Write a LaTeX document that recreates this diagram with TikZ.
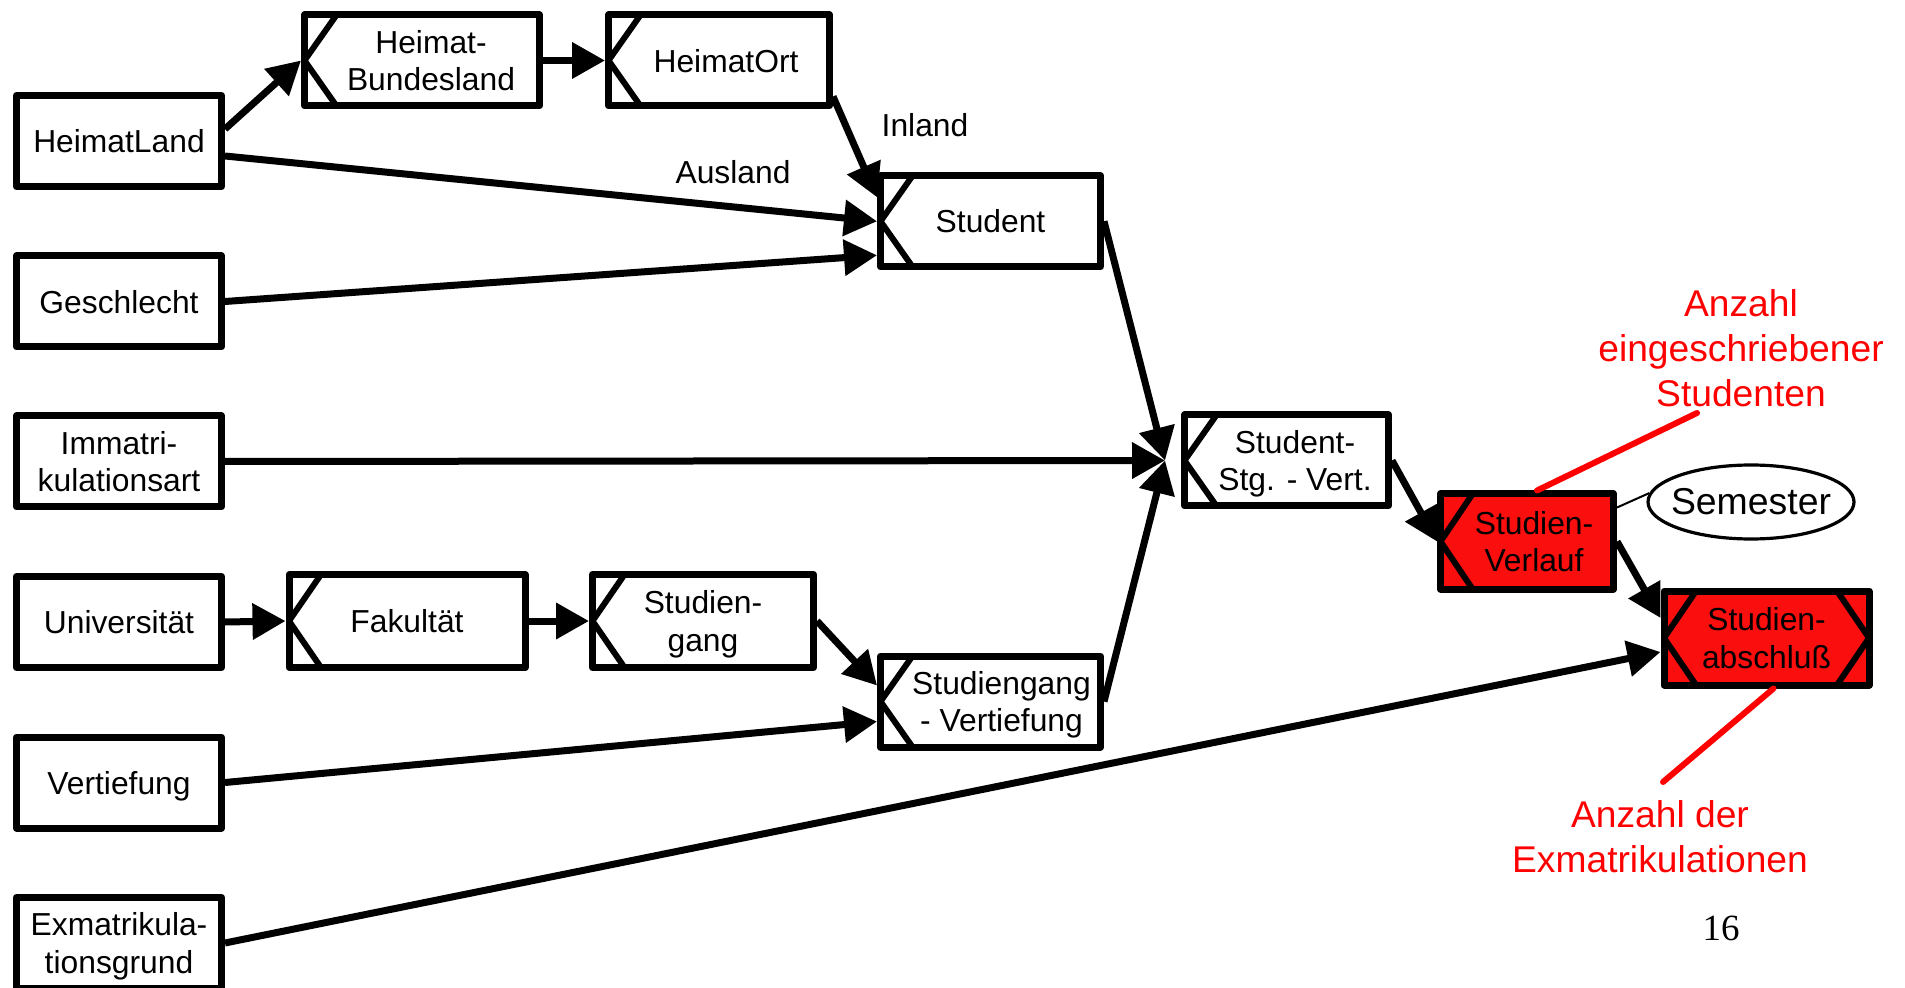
\documentclass[tikz,border=0pt]{standalone}
\usepackage{fontspec}
\setmainfont{Liberation Sans}
\newfontfamily\pagenumfont{Liberation Serif}
\usetikzlibrary{arrows.meta,calc,shapes.geometric}

\definecolor{boxred}{RGB}{250,14,14}
\definecolor{notered}{RGB}{255,0,0}

\tikzset{
  level/.style={draw, fill=white, line width=3.5pt, line join=round, inner sep=0pt,
    align=center, text depth=0pt, minimum height=45.5pt,
    font=\fontsize{15.9}{18.9}\selectfont},
  attr/.style={level, minimum width=102.5pt},
  chevL/.style={path picture={
    \draw[line width=3pt]
      ([xshift=16pt]path picture bounding box.north west)
      -- (path picture bounding box.west)
      -- ([xshift=16pt]path picture bounding box.south west);}},
  chevLR/.style={path picture={
    \draw[line width=3pt]
      ([xshift=16pt]path picture bounding box.north west)
      -- (path picture bounding box.west)
      -- ([xshift=16pt]path picture bounding box.south west);
    \draw[line width=3pt]
      ([xshift=-16pt]path picture bounding box.north east)
      -- (path picture bounding box.east)
      -- ([xshift=-16pt]path picture bounding box.south east);}},
  conn/.style={line width=3.5pt, -{Triangle[length=16.5pt,width=17.5pt]}},
  noteline/.style={draw=notered, line width=3pt, line cap=round},
  notetext/.style={text=notered, align=center, inner sep=0pt,
    font=\fontsize{18.6}{22.5}\selectfont},
  lbl/.style={inner sep=0pt, font=\fontsize{15.9}{18.9}\selectfont}
}

\begin{document}
\begin{tikzpicture}[x=0.5pt,y=-0.5pt]
\useasboundingbox (0,0) rectangle (1905,988);
\clip (0,0) rectangle (1905,988);

% attribute column
\node[attr] (hland) at (119,141) {HeimatLand};
\node[attr] (gesch) at (119,301.5) {Geschlecht};
\node[attr] (immat) at (119,461.5) {Immatri-\\kulationsart};
\node[attr] (uni) at (119,622) {Universität};
\node[attr] (vert) at (119,782.5) {Vertiefung};
\node[attr] (exma) at (119,943) {Exmatrikula-\\tionsgrund};

% hierarchy levels (text padded away from the chevron)
\node[level, chevL, minimum width=117.5pt] (hbl) at (422,60.5)
  {\hspace*{9pt}Heimat-\\\hspace*{9pt}Bundesland};
\node[level, chevL, minimum width=110.5pt] (hort) at (719,60.5) {\hspace*{7pt}HeimatOrt};
\node[level, chevL, minimum width=110pt] (stud) at (990.5,221.3) {Student};
\node[level, chevL, minimum width=118pt, minimum height=46.5pt] (fak) at (407,621) {Fakultät};
\node[level, chevL, minimum width=110.5pt, minimum height=46.5pt] (sgang) at (703,621) {Studien-\\gang};
\node[level, chevL, minimum width=110pt] (sgv) at (990.5,701.5)
  {\hspace*{11pt}Studiengang\\\hspace*{11pt}- Vertiefung};
\node[level, chevL, minimum width=102pt] (ssv) at (1286.5,460.5)
  {\hspace*{8.5pt}Student-\\\hspace*{8.5pt}Stg. - Vert.};
\node[level, chevL, fill=boxred, minimum width=86.5pt, minimum height=47.5pt] (verl) at (1527,541.5)
  {\hspace*{7pt}Studien-\\\hspace*{7pt}Verlauf};
\node[level, chevLR, fill=boxred, minimum width=102.5pt, minimum height=47pt] (absch) at (1766.5,638)
  {Studien-\\abschluß};

% time attribute
\node[draw, ellipse, line width=1.6pt, inner sep=0pt, inner xsep=-12pt,
  minimum width=103pt, minimum height=37pt,
  font=\fontsize{18.7}{22}\selectfont] (sem) at (1751,502) {Semester};
\draw[line width=1pt] ([yshift=17pt]verl.east) -- (sem.175);

% connectors
\coordinate (ssvin) at ($(ssv.west)+(-16,0)$);
\draw[conn] ([yshift=6pt]hland.east) -- (hbl.west);
\draw[conn] (hbl.east) -- (hort.west);
\draw[conn] ([yshift=-18pt]hort.east) -- ([yshift=12pt]stud.west);
\draw[conn] ([yshift=-7.5pt]hland.east) -- (stud.west);
\draw[conn] (gesch.east) -- ([yshift=-17pt]stud.west);
\draw[conn] (stud.east) -- (ssvin);
\draw[conn] (immat.east) -- (ssvin);
\draw[conn] (sgv.east) -- (ssvin);
\draw[conn] (uni.east) -- (fak.west);
\draw[conn] (fak.east) -- (sgang.west);
\draw[conn] (sgang.east) -- ([yshift=8pt]sgv.west);
\draw[conn] (vert.east) -- ([yshift=-10pt]sgv.west);
\draw[conn] (ssv.east) -- (verl.west);
\draw[conn] (verl.east) -- ([yshift=10pt]absch.west);
\draw[conn] (exma.east) -- ([yshift=-7pt]absch.west);

% edge labels
\node[lbl] (inl) at (925,125) {Inland};
\node[lbl] (ausl) at (733,172.5) {Ausland};

% measure annotations
\node[notetext, anchor=north] (lab1) at (1741,289) {Anzahl\\eingeschriebener\\Studenten};
\coordinate (lab1end) at (1697,413);
\draw[noteline] (lab1end) -- ($(verl.north)+(10,0)$);
\node[notetext, anchor=north] (lab2) at (1660,800) {Anzahl der\\Exmatrikulationen};
\coordinate (lab2end) at (1663,782);
\draw[noteline] ($(absch.south)+(7,0)$) -- (lab2end);

% page number
\node[font=\pagenumfont\fontsize{18.5}{20}\selectfont, anchor=base, inner sep=0pt] (pg) at (1721,940) {16};
\end{tikzpicture}
\end{document}
